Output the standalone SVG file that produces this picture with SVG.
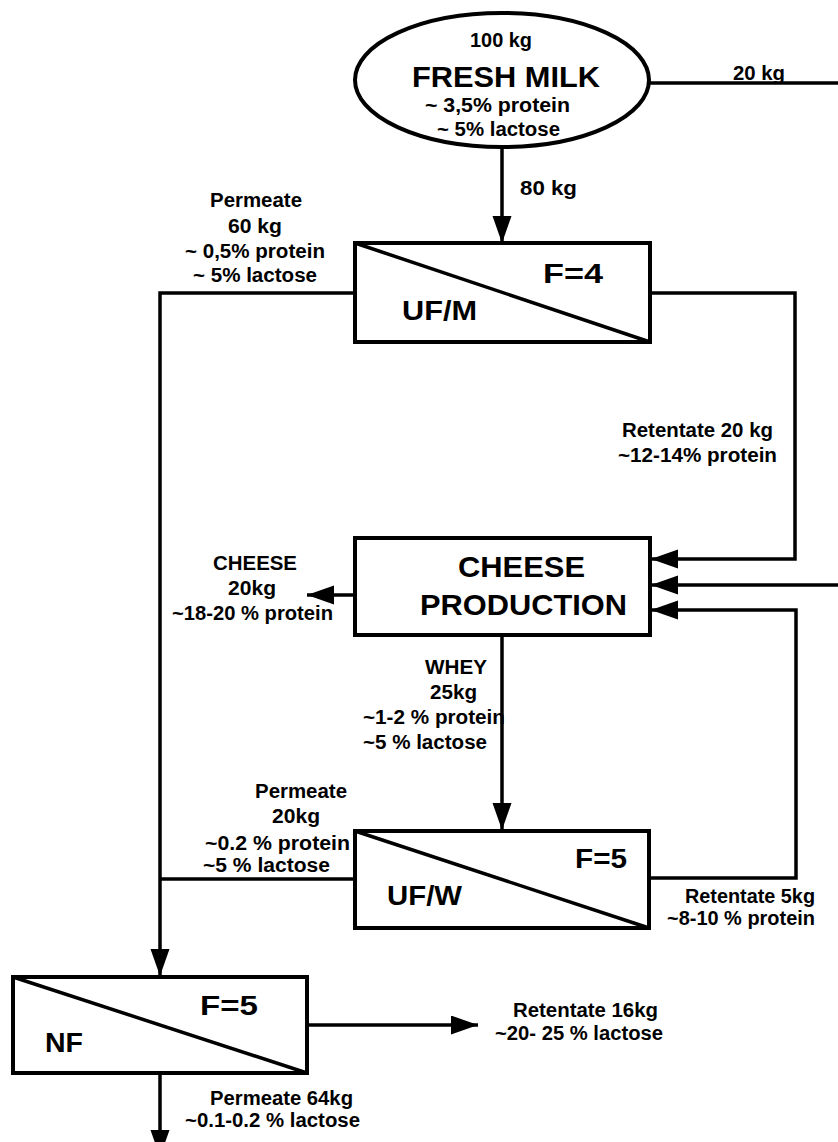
<svg xmlns="http://www.w3.org/2000/svg" width="838" height="1142" viewBox="0 0 838 1142">
<defs>
<marker id="ah" markerUnits="userSpaceOnUse" markerWidth="30" markerHeight="20" refX="27" refY="9.5" orient="auto">
<path d="M0,0 L27,9.5 L0,19 Z" fill="#000"/>
</marker>
</defs>
<style>
.n{fill:#fff;stroke:#000;stroke-width:4}
.d{stroke:#000;stroke-width:3.5;fill:none}
.c{fill:none;stroke:#000;stroke-width:3.5}
.a{marker-end:url(#ah)}
text{font-family:"Liberation Sans",Arial,sans-serif;font-weight:bold;fill:#000}
.s{font-size:20px}
.b{font-size:27px}
.h{font-size:30px}
</style>
<rect width="838" height="1142" fill="#fff"/>
<g id="connectors">
<path class="c a" d="M502,148 V243"/>
<path class="c" d="M650,83 H838"/>
<path class="c a" d="M650,293 H795 V559 H651"/>
<path class="c a" d="M838,585 H651"/>
<path class="c a" d="M355,293 H160 V976"/>
<path class="c a" d="M355,595 H307"/>
<path class="c a" d="M502,636 V830"/>
<path class="c" d="M355,879 H160"/>
<path class="c a" d="M650,878 H796 V610 H651"/>
<path class="c a" d="M307,1025 H478"/>
<path class="c a" d="M160,1073 V1157"/>
</g>
<g id="fresh-milk">
<ellipse class="n" cx="502" cy="80" rx="147" ry="67"/>
<text class="s" x="470" y="47" textLength="62" lengthAdjust="spacingAndGlyphs">100 kg</text>
<text class="h" x="412" y="87" textLength="188" lengthAdjust="spacingAndGlyphs">FRESH MILK</text>
<text class="s" x="425" y="112" textLength="145" lengthAdjust="spacingAndGlyphs">~ 3,5% protein</text>
<text class="s" x="437" y="136" textLength="123" lengthAdjust="spacingAndGlyphs">~ 5% lactose</text>
</g>
<g id="uf-m">
<rect class="n" x="355" y="243" width="295" height="99"/>
<path class="d" d="M355,243 L650,342"/>
<text class="b" x="543" y="283" textLength="60" lengthAdjust="spacingAndGlyphs">F=4</text>
<text class="b" x="402" y="320" textLength="75" lengthAdjust="spacingAndGlyphs">UF/M</text>
</g>
<g id="cheese-production">
<rect class="n" x="355" y="538" width="295" height="97"/>
<text class="h" x="458" y="577" textLength="127" lengthAdjust="spacingAndGlyphs">CHEESE</text>
<text class="h" x="420" y="615" textLength="207" lengthAdjust="spacingAndGlyphs">PRODUCTION</text>
</g>
<g id="uf-w">
<rect class="n" x="355" y="831" width="294" height="97"/>
<path class="d" d="M355,831 L649,928"/>
<text class="b" x="575" y="868" textLength="52" lengthAdjust="spacingAndGlyphs">F=5</text>
<text class="b" x="387" y="905" textLength="75" lengthAdjust="spacingAndGlyphs">UF/W</text>
</g>
<g id="nf">
<rect class="n" x="13" y="977" width="294" height="96"/>
<path class="d" d="M13,977 L307,1073"/>
<text class="b" x="200" y="1015" textLength="58" lengthAdjust="spacingAndGlyphs">F=5</text>
<text class="b" x="45" y="1052" textLength="38" lengthAdjust="spacingAndGlyphs">NF</text>
</g>
<g id="labels">
<text class="s" x="733" y="80" textLength="52" lengthAdjust="spacingAndGlyphs">20 kg</text>
<text class="s" x="520" y="195" textLength="57" lengthAdjust="spacingAndGlyphs">80 kg</text>
<text class="s" x="210" y="207" textLength="92" lengthAdjust="spacingAndGlyphs">Permeate</text>
<text class="s" x="228" y="233" textLength="54" lengthAdjust="spacingAndGlyphs">60 kg</text>
<text class="s" x="185" y="258" textLength="140" lengthAdjust="spacingAndGlyphs">~ 0,5% protein</text>
<text class="s" x="193" y="282" textLength="124" lengthAdjust="spacingAndGlyphs">~ 5% lactose</text>
<text class="s" x="622" y="437" textLength="151" lengthAdjust="spacingAndGlyphs">Retentate 20 kg</text>
<text class="s" x="618" y="462" textLength="159" lengthAdjust="spacingAndGlyphs">~12-14% protein</text>
<text class="s" x="213" y="570" textLength="84" lengthAdjust="spacingAndGlyphs">CHEESE</text>
<text class="s" x="228" y="595" textLength="48" lengthAdjust="spacingAndGlyphs">20kg</text>
<text class="s" x="172" y="620" textLength="161" lengthAdjust="spacingAndGlyphs">~18-20 % protein</text>
<text class="s" x="425" y="674" textLength="62" lengthAdjust="spacingAndGlyphs">WHEY</text>
<text class="s" x="430" y="699" textLength="47" lengthAdjust="spacingAndGlyphs">25kg</text>
<text class="s" x="363" y="724" textLength="142" lengthAdjust="spacingAndGlyphs">~1-2 % protein</text>
<text class="s" x="363" y="749" textLength="124" lengthAdjust="spacingAndGlyphs">~5 % lactose</text>
<text class="s" x="255" y="798" textLength="92" lengthAdjust="spacingAndGlyphs">Permeate</text>
<text class="s" x="272" y="823" textLength="48" lengthAdjust="spacingAndGlyphs">20kg</text>
<text class="s" x="205" y="850" textLength="145" lengthAdjust="spacingAndGlyphs">~0.2 % protein</text>
<text class="s" x="203" y="872" textLength="127" lengthAdjust="spacingAndGlyphs">~5 % lactose</text>
<text class="s" x="685" y="903" textLength="130" lengthAdjust="spacingAndGlyphs">Retentate 5kg</text>
<text class="s" x="667" y="925" textLength="148" lengthAdjust="spacingAndGlyphs">~8-10 % protein</text>
<text class="s" x="513" y="1017" textLength="145" lengthAdjust="spacingAndGlyphs">Retentate 16kg</text>
<text class="s" x="495" y="1040" textLength="168" lengthAdjust="spacingAndGlyphs">~20- 25 % lactose</text>
<text class="s" x="210" y="1105" textLength="143" lengthAdjust="spacingAndGlyphs">Permeate 64kg</text>
<text class="s" x="185" y="1127" textLength="175" lengthAdjust="spacingAndGlyphs">~0.1-0.2 % lactose</text>
</g>
</svg>
